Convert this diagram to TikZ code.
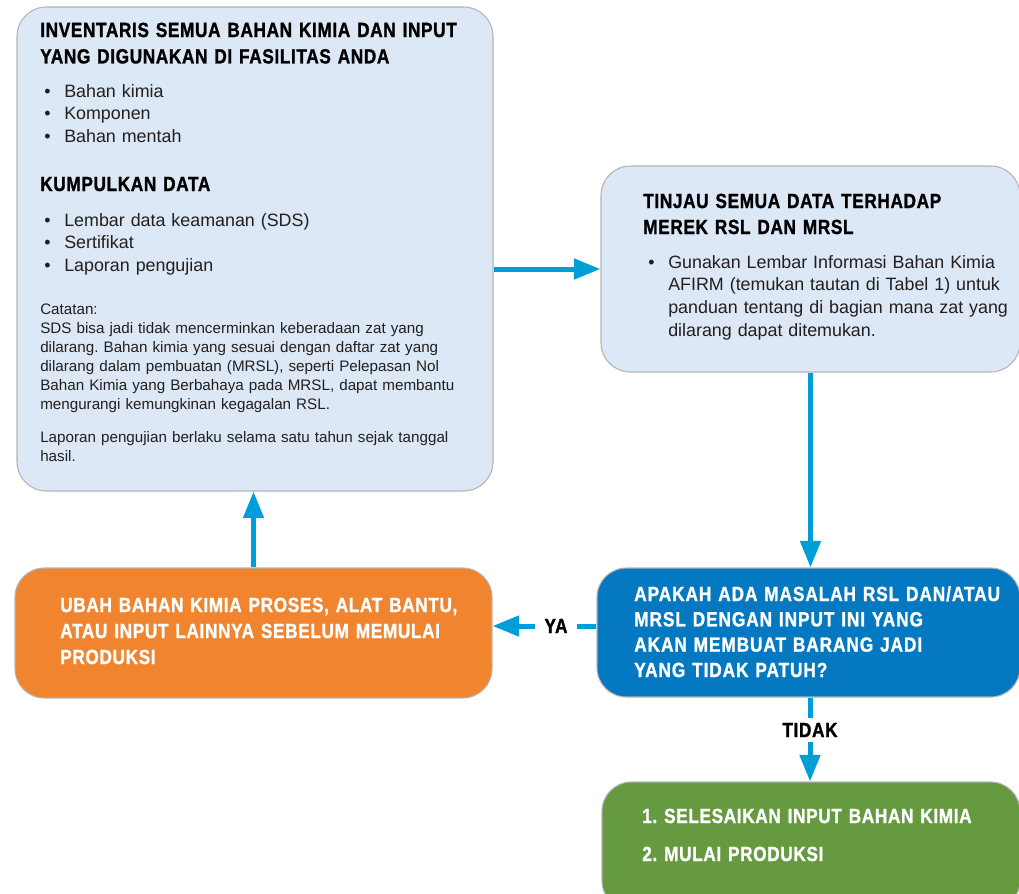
\documentclass[tikz,border=0pt]{standalone}
\usepackage{fontspec}
\setmainfont{Liberation Sans}
\newfontfamily\condfont[FakeStretch=0.84,LetterSpace=3,BoldFeatures={FakeBold=1.2}]{Liberation Sans}
\usetikzlibrary{arrows.meta}
\frenchspacing

\definecolor{boxfill}{HTML}{DCE8F5}
\definecolor{boxline}{HTML}{B4B4B4}
\definecolor{arrowblue}{HTML}{009ED8}
\definecolor{askblue}{HTML}{0479C1}
\definecolor{changeorange}{HTML}{F0842F}
\definecolor{finishgreen}{HTML}{659A41}
\definecolor{bodygray}{HTML}{231F20}

\newcommand{\bul}{\makebox[15pt][l]{\textbullet}}
\newcommand{\ind}{\hspace*{15pt}}

\tikzset{
  box/.style={draw=boxline, line width=0.8pt, rounded corners=22pt, inner sep=0pt},
  txt/.style={anchor=base west, inner sep=0pt, align=left, text width=330pt},
  headtxt/.style={txt, font=\condfont\bfseries\fontsize{15.4pt}{19.8pt}\selectfont},
  bodytxt/.style={txt, text=bodygray, font=\fontsize{13.4pt}{16.9pt}\selectfont},
  notetxt/.style={txt, text=bodygray, font=\fontsize{11.4pt}{14.25pt}\selectfont},
  flowline/.style={draw=arrowblue, line width=3.75pt},
  flow/.style={flowline, -{Triangle[length=20pt,width=15pt]}},
  answer/.style={inner xsep=7pt, inner ysep=3.4pt, font=\condfont\bfseries\fontsize{15.4pt}{18pt}\selectfont}
}

\begin{document}
\begin{tikzpicture}[x=0.75pt,y=-0.75pt]
\useasboundingbox (0,0) rectangle (1019,893);

% boxes
\node[box, fill=boxfill, minimum width=357pt, minimum height=363pt] (inventory) at (255,249) {};
\node[box, fill=boxfill, minimum width=314.25pt, minimum height=154.5pt] (review) at (810.5,269) {};
\node[box, fill=askblue, minimum width=317.25pt, minimum height=96.75pt] (question) at (808.5,632.5) {};
\node[box, fill=changeorange, minimum width=357.75pt, minimum height=97.5pt] (change) at (253.5,633) {};
\node[box, fill=finishgreen, minimum width=313.5pt, minimum height=96pt] (finish) at (811,846) {};

% texts of the first box
\node[headtxt] (invhead) at (40,37) {INVENTARIS SEMUA BAHAN KIMIA DAN INPUT\\YANG DIGUNAKAN DI FASILITAS ANDA};
\node[bodytxt] (invlist) at (44,97) {\bul Bahan kimia\\\bul Komponen\\\bul Bahan mentah};
\node[headtxt] (datahead) at (40,191) {KUMPULKAN DATA};
\node[bodytxt] (datalist) at (44,226) {\bul Lembar data keamanan (SDS)\\\bul Sertifikat\\\bul Laporan pengujian};
\node[notetxt] (note) at (40,314) {Catatan:\\SDS bisa jadi tidak mencerminkan keberadaan zat yang\\dilarang. Bahan kimia yang sesuai dengan daftar zat yang\\dilarang dalam pembuatan (MRSL), seperti Pelepasan Nol\\Bahan Kimia yang Berbahaya pada MRSL, dapat membantu\\mengurangi kemungkinan kegagalan RSL.};
\node[notetxt] (validity) at (40,442) {Laporan pengujian berlaku selama satu tahun sejak tanggal\\hasil.};

% texts of the other boxes
\node[headtxt, font=\condfont\bfseries\fontsize{15.4pt}{19.5pt}\selectfont] (reviewhead) at (643,208) {TINJAU SEMUA DATA TERHADAP\\MEREK RSL DAN MRSL};
\node[bodytxt, font=\fontsize{13.4pt}{17pt}\selectfont] (reviewlist) at (648,268) {\bul Gunakan Lembar Informasi Bahan Kimia\\\ind AFIRM (temukan tautan di Tabel 1) untuk\\\ind panduan tentang di bagian mana zat yang\\\ind dilarang dapat ditemukan.};
\node[headtxt, text=white, font=\condfont\bfseries\addfontfeature{LetterSpace=4.5}\fontsize{15.4pt}{19pt}\selectfont] (questiontxt) at (634,601) {APAKAH ADA MASALAH RSL DAN/ATAU\\MRSL DENGAN INPUT INI YANG\\AKAN MEMBUAT BARANG JADI\\YANG TIDAK PATUH?};
\node[headtxt, text=white, font=\condfont\bfseries\fontsize{15.4pt}{19.5pt}\selectfont] (changetxt) at (60,612) {UBAH BAHAN KIMIA PROSES, ALAT BANTU,\\ATAU INPUT LAINNYA SEBELUM MEMULAI\\PRODUKSI};
\node[headtxt, text=white, font=\condfont\bfseries\fontsize{15.4pt}{28.5pt}\selectfont] (finishtxt) at (642,823) {1. SELESAIKAN INPUT BAHAN KIMIA\\2. MULAI PRODUKSI};

% connectors
\node[answer] (ya) at (556,626) {YA};
\node[answer] (tidak) at (810,730) {TIDAK};
\draw[flow] (inventory.east |- review.west) -- (review.west);
\draw[flow] (review.south) -- (review.south |- question.north);
\draw[flowline] (question.west |- ya) -- (ya.east);
\draw[flow] (ya.west) -- (ya.west -| change.east);
\draw[flow] (change.north) -- (change.north |- inventory.south);
\draw[flowline] (question.south -| tidak) -- (tidak.north);
\draw[flow] (tidak.south) -- (tidak.south |- finish.north);
\end{tikzpicture}
\end{document}
